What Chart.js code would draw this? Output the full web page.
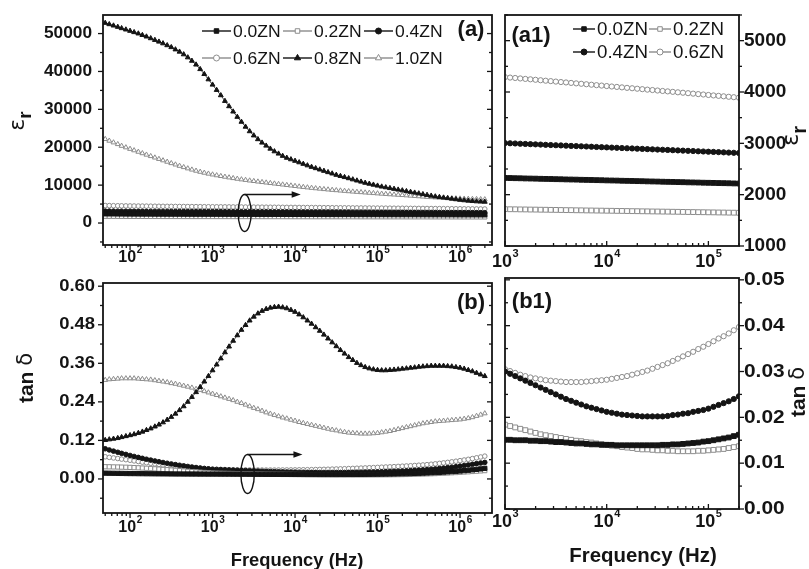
<!DOCTYPE html>
<html>
<head>
<meta charset="utf-8">
<script src="https://cdn.jsdelivr.net/npm/chart.js@4.4.1/dist/chart.umd.min.js"></script>
<style>
  html, body { margin: 0; padding: 0; background: #fff; }
  #wrap { position: relative; width: 809px; height: 569px; overflow: hidden; background: #fff; }
  #wrap canvas { position: absolute; }
</style>
</head>
<body>
<div id="wrap">
  <canvas id="cA"  width="497" height="270" style="left:0;top:0"></canvas>
  <canvas id="cA1" width="329" height="270" style="left:480px;top:0"></canvas>
  <canvas id="cB"  width="497" height="299" style="left:0;top:270px"></canvas>
  <canvas id="cB1" width="329" height="299" style="left:480px;top:270px"></canvas>
</div>
<script>
// Measurement frequencies (Hz), log sweep
const freqHz = [
  50, 56, 63, 71, 79, 89,
  100, 112, 126, 141, 158, 178, 200, 224, 251, 282, 316, 355, 398, 447, 501, 562, 631, 708, 794, 891,
  1000, 1122, 1259, 1413, 1585, 1778, 1995, 2239, 2512, 2818, 3162, 3548, 3981, 4467, 5012, 5623, 6310, 7079, 7943, 8913,
  10000, 11220, 12589, 14125, 15849, 17783, 19953, 22387, 25119, 28184, 31623, 35481, 39811, 44668, 50119, 56234, 63096, 70795, 79433, 89125,
  100000, 112202, 125893, 141254, 158489, 177828, 199526, 223872, 251189, 281838, 316228, 354813, 398107, 446684, 501187, 562341, 630957, 707946, 794328, 891251,
  1000000, 1122018, 1258925, 1412538, 1584893, 1778279, 1995262
];

const seriesNames = ['0.0ZN', '0.2ZN', '0.4ZN', '0.6ZN', '0.8ZN', '1.0ZN'];

// Relative permittivity
const epsZN00 = [
  2420, 2413, 2406, 2400, 2394, 2388,
  2383, 2378, 2373, 2369, 2365, 2361, 2358, 2355, 2352, 2349, 2346, 2344, 2341, 2339, 2337, 2335, 2333, 2331, 2329, 2328,
  2326, 2324, 2321, 2319, 2316, 2314, 2312, 2309, 2307, 2305, 2302, 2300, 2297, 2295, 2293, 2290, 2288, 2286, 2283, 2281,
  2278, 2276, 2274, 2271, 2269, 2267, 2264, 2262, 2259, 2257, 2255, 2252, 2250, 2248, 2245, 2243, 2240, 2238, 2236, 2233,
  2231, 2229, 2226, 2224, 2222, 2219, 2217, 2215, 2212, 2210, 2207, 2205, 2202, 2200, 2197, 2195, 2192, 2190, 2187, 2185,
  2182, 2180, 2177, 2175, 2172, 2170, 2168
];
const epsZN02 = [
  1790, 1785, 1780, 1775, 1770, 1766,
  1762, 1758, 1754, 1751, 1748, 1745, 1742, 1739, 1737, 1735, 1733, 1731, 1729, 1727, 1725, 1724, 1723, 1722, 1721, 1720,
  1718, 1716, 1715, 1713, 1712, 1710, 1709, 1707, 1706, 1704, 1703, 1701, 1699, 1698, 1696, 1695, 1693, 1692, 1690, 1689,
  1687, 1686, 1684, 1683, 1681, 1679, 1678, 1676, 1675, 1673, 1672, 1670, 1669, 1667, 1666, 1664, 1662, 1661, 1659, 1658,
  1656, 1655, 1653, 1652, 1650, 1649, 1647, 1645, 1644, 1642, 1641, 1639, 1637, 1636, 1634, 1633, 1631, 1629, 1628, 1626,
  1625, 1623, 1621, 1620, 1618, 1617, 1615
];
const epsZN04 = [
  3150, 3140, 3130, 3120, 3111, 3102,
  3093, 3085, 3077, 3070, 3063, 3057, 3051, 3046, 3041, 3036, 3032, 3028, 3024, 3021, 3018, 3015, 3013, 3011, 3009, 3007,
  3005, 3001, 2997, 2992, 2988, 2984, 2980, 2976, 2971, 2967, 2963, 2959, 2955, 2950, 2946, 2942, 2938, 2934, 2929, 2925,
  2921, 2917, 2913, 2908, 2904, 2900, 2896, 2892, 2887, 2883, 2879, 2875, 2871, 2866, 2862, 2858, 2854, 2850, 2845, 2841,
  2837, 2833, 2829, 2824, 2820, 2816, 2812, 2808, 2804, 2800, 2796, 2792, 2787, 2783, 2779, 2775, 2771, 2767, 2763, 2759,
  2755, 2751, 2746, 2742, 2738, 2734, 2730
];
const epsZN06 = [
  4620, 4600, 4580, 4560, 4540, 4522,
  4505, 4493, 4481, 4469, 4457, 4445, 4433, 4421, 4409, 4397, 4385, 4376, 4366, 4357, 4347, 4338, 4328, 4319, 4309, 4300,
  4290, 4281, 4273, 4264, 4255, 4247, 4238, 4229, 4220, 4212, 4203, 4194, 4186, 4177, 4168, 4160, 4151, 4142, 4133, 4125,
  4116, 4107, 4099, 4090, 4081, 4073, 4064, 4055, 4046, 4038, 4029, 4020, 4012, 4003, 3994, 3986, 3977, 3968, 3959, 3951,
  3942, 3933, 3925, 3916, 3907, 3899, 3890, 3881, 3871, 3862, 3852, 3843, 3833, 3824, 3814, 3805, 3795, 3786, 3776, 3767,
  3757, 3748, 3738, 3729, 3719, 3710, 3700
];
const epsZN08 = [
  52800, 52450, 52100, 51750, 51400, 51050,
  50700, 50350, 50000, 49600, 49200, 48750, 48300, 47850, 47400, 46900, 46400, 45800, 45200, 44500, 43700, 42800, 41800, 40600, 39300, 37900,
  36500, 35100, 33700, 32200, 30800, 29400, 28000, 26700, 25400, 24200, 23100, 22100, 21200, 20400, 19600, 18900, 18300, 17700, 17200, 16800,
  16400, 16000, 15600, 15200, 14800, 14450, 14100, 13750, 13400, 13050, 12700, 12400, 12100, 11800, 11500, 11200, 10900, 10600, 10350, 10100,
  9850, 9600, 9400, 9200, 9000, 8800, 8600, 8400, 8200, 8000, 7800, 7600, 7400, 7200, 7000, 6850, 6700, 6550, 6400, 6250,
  6100, 5980, 5880, 5780, 5700, 5640, 5600
];
const epsZN10 = [
  22150, 21700, 21250, 20800, 20350, 19950,
  19550, 19170, 18780, 18400, 18020, 17640, 17260, 16890, 16520, 16150, 15780, 15420, 15070, 14730, 14400, 14080, 13780, 13500, 13250, 13010,
  12790, 12580, 12380, 12190, 12010, 11830, 11660, 11500, 11350, 11200, 11060, 10920, 10790, 10660, 10530, 10400, 10270, 10140, 10010, 9880,
  9750, 9620, 9500, 9380, 9260, 9150, 9040, 8930, 8830, 8730, 8640, 8550, 8460, 8370, 8280, 8200, 8120, 8040, 7960, 7880,
  7800, 7720, 7650, 7570, 7500, 7430, 7360, 7280, 7200, 7120, 7040, 6960, 6880, 6810, 6740, 6680, 6620, 6570, 6520, 6480,
  6440, 6400, 6360, 6330, 6300, 6270, 6240
];

// Dielectric loss tangent
const tanZN00 = [
  0.0180, 0.0178, 0.0176, 0.0174, 0.0172, 0.0170,
  0.0168, 0.0167, 0.0165, 0.0164, 0.0162, 0.0161, 0.0160, 0.0159, 0.0158, 0.0157, 0.0156, 0.0155, 0.0155, 0.0154, 0.0154, 0.0153, 0.0153, 0.0152, 0.0152, 0.0151,
  0.0151, 0.0151, 0.0150, 0.0150, 0.0150, 0.0149, 0.0149, 0.0148, 0.0148, 0.0147, 0.0146, 0.0146, 0.0145, 0.0144, 0.0143, 0.0143, 0.0142, 0.0141, 0.0141, 0.0140,
  0.0140, 0.0140, 0.0139, 0.0139, 0.0139, 0.0139, 0.0139, 0.0139, 0.0139, 0.0139, 0.0139, 0.0140, 0.0140, 0.0141, 0.0141, 0.0142, 0.0143, 0.0144, 0.0145, 0.0147,
  0.0148, 0.0150, 0.0152, 0.0154, 0.0156, 0.0159, 0.0162, 0.0165, 0.0169, 0.0173, 0.0177, 0.0182, 0.0187, 0.0193, 0.0199, 0.0206, 0.0213, 0.0221, 0.0229, 0.0238,
  0.0248, 0.0259, 0.0271, 0.0284, 0.0298, 0.0313, 0.0330
];
const tanZN02 = [
  0.0380, 0.0378, 0.0375, 0.0372, 0.0368, 0.0364,
  0.0359, 0.0353, 0.0347, 0.0340, 0.0332, 0.0324, 0.0315, 0.0306, 0.0297, 0.0288, 0.0278, 0.0268, 0.0258, 0.0248, 0.0238, 0.0228, 0.0219, 0.0210, 0.0201, 0.0192,
  0.0184, 0.0181, 0.0178, 0.0175, 0.0172, 0.0169, 0.0166, 0.0163, 0.0161, 0.0159, 0.0157, 0.0155, 0.0153, 0.0151, 0.0149, 0.0148, 0.0146, 0.0145, 0.0143, 0.0142,
  0.0140, 0.0138, 0.0137, 0.0135, 0.0134, 0.0133, 0.0131, 0.0130, 0.0130, 0.0129, 0.0128, 0.0128, 0.0127, 0.0127, 0.0126, 0.0126, 0.0126, 0.0126, 0.0127, 0.0127,
  0.0128, 0.0129, 0.0130, 0.0131, 0.0133, 0.0135, 0.0137, 0.0140, 0.0143, 0.0146, 0.0150, 0.0154, 0.0158, 0.0163, 0.0168, 0.0174, 0.0180, 0.0186, 0.0193, 0.0200,
  0.0208, 0.0216, 0.0224, 0.0233, 0.0242, 0.0251, 0.0260
];
const tanZN04 = [
  0.0939, 0.0902, 0.0866, 0.0831, 0.0797, 0.0764,
  0.0732, 0.0701, 0.0671, 0.0642, 0.0614, 0.0587, 0.0561, 0.0536, 0.0512, 0.0489, 0.0467, 0.0446, 0.0426, 0.0407, 0.0389, 0.0372, 0.0356, 0.0341, 0.0327, 0.0314,
  0.0300, 0.0295, 0.0290, 0.0285, 0.0280, 0.0275, 0.0270, 0.0265, 0.0260, 0.0255, 0.0250, 0.0245, 0.0240, 0.0236, 0.0232, 0.0228, 0.0224, 0.0221, 0.0218, 0.0215,
  0.0212, 0.0210, 0.0208, 0.0206, 0.0205, 0.0204, 0.0203, 0.0202, 0.0202, 0.0202, 0.0202, 0.0202, 0.0203, 0.0205, 0.0206, 0.0208, 0.0209, 0.0212, 0.0214, 0.0216,
  0.0219, 0.0223, 0.0227, 0.0231, 0.0235, 0.0240, 0.0246, 0.0252, 0.0259, 0.0266, 0.0274, 0.0282, 0.0291, 0.0301, 0.0312, 0.0324, 0.0337, 0.0351, 0.0366, 0.0382,
  0.0399, 0.0417, 0.0436, 0.0456, 0.0476, 0.0496, 0.0515
];
const tanZN06 = [
  0.0690, 0.0672, 0.0654, 0.0636, 0.0618, 0.0600,
  0.0582, 0.0562, 0.0543, 0.0524, 0.0505, 0.0487, 0.0469, 0.0452, 0.0436, 0.0421, 0.0407, 0.0394, 0.0382, 0.0371, 0.0360, 0.0350, 0.0341, 0.0331, 0.0321, 0.0312,
  0.0305, 0.0301, 0.0297, 0.0293, 0.0290, 0.0287, 0.0285, 0.0283, 0.0281, 0.0280, 0.0279, 0.0278, 0.0277, 0.0277, 0.0277, 0.0277, 0.0278, 0.0279, 0.0280, 0.0281,
  0.0282, 0.0284, 0.0286, 0.0288, 0.0290, 0.0293, 0.0296, 0.0299, 0.0302, 0.0306, 0.0310, 0.0314, 0.0318, 0.0323, 0.0328, 0.0333, 0.0338, 0.0343, 0.0349, 0.0354,
  0.0360, 0.0366, 0.0372, 0.0377, 0.0383, 0.0390, 0.0397, 0.0404, 0.0411, 0.0419, 0.0427, 0.0436, 0.0446, 0.0458, 0.0471, 0.0485, 0.0500, 0.0516, 0.0533, 0.0551,
  0.0570, 0.0590, 0.0611, 0.0634, 0.0658, 0.0684, 0.0710
];
const tanZN08 = [
  0.121, 0.123, 0.125, 0.127, 0.130, 0.133,
  0.136, 0.139, 0.143, 0.147, 0.152, 0.157, 0.163, 0.169, 0.176, 0.184, 0.193, 0.203, 0.214, 0.226, 0.240, 0.255, 0.270, 0.286, 0.303, 0.320,
  0.338, 0.356, 0.375, 0.394, 0.412, 0.430, 0.447, 0.464, 0.479, 0.493, 0.505, 0.515, 0.523, 0.529, 0.533, 0.535, 0.536, 0.534, 0.531, 0.526,
  0.520, 0.512, 0.503, 0.493, 0.483, 0.472, 0.461, 0.449, 0.437, 0.425, 0.413, 0.401, 0.390, 0.379, 0.370, 0.361, 0.354, 0.348, 0.344, 0.341,
  0.339, 0.338, 0.338, 0.339, 0.340, 0.341, 0.343, 0.344, 0.346, 0.347, 0.349, 0.350, 0.351, 0.352, 0.352, 0.352, 0.352, 0.351, 0.350, 0.348,
  0.346, 0.343, 0.339, 0.335, 0.330, 0.325, 0.320
];
const tanZN10 = [
  0.308, 0.310, 0.311, 0.312, 0.313, 0.313,
  0.313, 0.313, 0.312, 0.311, 0.310, 0.309, 0.307, 0.305, 0.303, 0.301, 0.298, 0.296, 0.293, 0.290, 0.287, 0.284, 0.280, 0.277, 0.273, 0.269,
  0.265, 0.261, 0.257, 0.253, 0.249, 0.245, 0.240, 0.236, 0.231, 0.226, 0.221, 0.217, 0.212, 0.207, 0.203, 0.199, 0.195, 0.191, 0.188, 0.184,
  0.181, 0.177, 0.174, 0.171, 0.168, 0.165, 0.162, 0.159, 0.156, 0.153, 0.151, 0.148, 0.146, 0.144, 0.143, 0.142, 0.141, 0.141, 0.141, 0.142,
  0.143, 0.145, 0.147, 0.149, 0.152, 0.155, 0.158, 0.161, 0.164, 0.167, 0.170, 0.173, 0.175, 0.177, 0.179, 0.180, 0.181, 0.182, 0.183, 0.184,
  0.185, 0.187, 0.189, 0.192, 0.196, 0.200, 0.204
];

// Axis tick values
const epsTicksMain  = [0, 10000, 20000, 30000, 40000, 50000];
const epsTicksInset = [1000, 2000, 3000, 4000, 5000];
const tanTicksMain  = [0, 0.12, 0.24, 0.36, 0.48, 0.60];
const tanTicksInset = [0, 0.01, 0.02, 0.03, 0.04, 0.05];
const decadesMain   = [1e2, 1e3, 1e4, 1e5, 1e6];
const decadesInset  = [1e3, 1e4, 1e5];

const epsSets = [epsZN00, epsZN02, epsZN04, epsZN06, epsZN08, epsZN10];
const tanSets = [tanZN00, tanZN02, tanZN04, tanZN06, tanZN08, tanZN10];

const FONT = '"Liberation Sans", Arial, Helvetica, sans-serif';
const GREY = '#8c8c8c';
const INK = '#141414';

const markers = [
  { shape: 'rect',     fill: INK,    stroke: INK  },
  { shape: 'rect',     fill: '#fff', stroke: GREY },
  { shape: 'circle',   fill: INK,    stroke: INK  },
  { shape: 'circle',   fill: '#fff', stroke: GREY },
  { shape: 'triangle', fill: INK,    stroke: INK  },
  { shape: 'triangle', fill: '#fff', stroke: GREY }
];

function text(ctx, s, x, y, font, align, sx) {
  ctx.save();
  ctx.font = font;
  ctx.textAlign = align;
  ctx.textBaseline = 'middle';
  ctx.translate(x, y);
  ctx.scale(sx || 1, 1);
  ctx.fillText(s, 0, 0);
  ctx.restore();
}

function powerLabel(ctx, exp, x, y, size, sx) {
  const base = 'bold ' + size + 'px ' + FONT;
  const sup = 'bold ' + Math.round(size * 0.62) + 'px ' + FONT;
  ctx.save();
  ctx.translate(x, y);
  ctx.scale(sx || 1, 1);
  ctx.textBaseline = 'middle';
  ctx.textAlign = 'left';
  ctx.font = base;
  const w1 = ctx.measureText('10').width;
  ctx.font = sup;
  const w2 = ctx.measureText(String(exp)).width;
  const left = -(w1 + w2) / 2;
  ctx.font = base;
  ctx.fillText('10', left, 0);
  ctx.font = sup;
  ctx.fillText(String(exp), left + w1 + 0.5, -size * 0.47);
  ctx.restore();
}

function line(ctx, x1, y1, x2, y2) {
  ctx.beginPath();
  ctx.moveTo(x1, y1);
  ctx.lineTo(x2, y2);
  ctx.stroke();
}

function drawMarker(ctx, m, x, y, r) {
  ctx.save();
  ctx.fillStyle = m.fill;
  ctx.strokeStyle = m.stroke;
  ctx.lineWidth = 1;
  Chart.helpers.drawPoint(ctx, { pointStyle: m.shape, radius: r[m.shape], rotation: 0, borderWidth: 1 }, x, y);
  ctx.restore();
}

// Frame, ticks, tick labels, titles, legend and the arrow note of one panel
function makeDecor(cfg) {
  return {
    id: 'decor' + cfg.key,
    afterDatasetsDraw(chart) {
      const ctx = chart.ctx;
      const a = chart.chartArea;
      const xs = chart.scales.x, ys = chart.scales.y;
      ctx.save();
      ctx.strokeStyle = INK;
      ctx.fillStyle = INK;
      ctx.lineWidth = 1.3;

      // y ticks: outward on the labelled side, inward on the opposite border
      const ySideX = cfg.ySide === 'left' ? a.left : a.right;
      const yOppX = cfg.ySide === 'left' ? a.right : a.left;
      const dir = cfg.ySide === 'left' ? -1 : 1;
      const yTick = (v, len) => {
        const p = ys.getPixelForValue(v);
        if (p < a.top - 0.5 || p > a.bottom + 0.5) return;
        line(ctx, ySideX, p, ySideX + dir * len, p);
        line(ctx, yOppX, p, yOppX + dir * len, p);
      };
      const first = cfg.yTicks[0], step = cfg.yTicks[1] - cfg.yTicks[0];
      for (let k = -4; k < 40; k++) {
        const v = first + k * step / 2;
        if (v < ys.min - 1e-9 || v > ys.max + 1e-9) continue;
        yTick(v, k % 2 === 0 ? 5 : 3);
      }
      // x ticks on the bottom border, decades and their 2..9 subdivisions
      const xTick = (v, len) => {
        const p = xs.getPixelForValue(v);
        if (p < a.left - 0.5 || p > a.right + 0.5) return;
        line(ctx, p, a.bottom, p, a.bottom + cfg.xDir * len);
      };
      for (let d = 1; d <= 6; d++) {
        for (let m = 1; m <= 9; m++) xTick(m * Math.pow(10, d), m === 1 ? 5 : 3);
      }

      // frame
      ctx.lineWidth = 1.8;
      ctx.strokeRect(a.left, a.top, a.right - a.left, a.bottom - a.top);

      // y tick labels
      const yf = 'bold ' + cfg.yFont + 'px ' + FONT;
      cfg.yTicks.forEach(v => {
        text(ctx, cfg.yFmt(v), cfg.yLabelX, ys.getPixelForValue(v), yf, cfg.ySide === 'left' ? 'right' : 'left', cfg.ySx);
      });
      // x tick labels
      cfg.xTicks.forEach(v => {
        powerLabel(ctx, Math.round(Math.log10(v)), xs.getPixelForValue(v), cfg.xLabelY, cfg.xFont, cfg.xSx);
      });

      // axis titles
      if (cfg.xTitle) {
        text(ctx, 'Frequency (Hz)', cfg.xTitle.x, cfg.xTitle.y, 'bold ' + cfg.xTitle.size + 'px ' + FONT, 'center', cfg.xTitle.sx);
      }
      const t = cfg.yTitle;
      ctx.save();
      ctx.translate(t.x, t.y);
      ctx.rotate(-Math.PI / 2);
      ctx.textBaseline = 'middle';
      ctx.textAlign = 'left';
      if (t.kind === 'eps') {
        const f1 = t.size + 'px "DejaVu Sans", ' + FONT;
        const f2 = 'bold ' + Math.round(t.size * 0.85) + 'px ' + FONT;
        ctx.font = f1; const w1 = ctx.measureText('ε').width;
        ctx.font = f2; const w2 = ctx.measureText('r').width;
        const x0 = -(w1 + w2) / 2;
        ctx.font = f1; ctx.fillText('ε', x0, -t.size * 0.12);
        ctx.font = f2; ctx.fillText('r', x0 + w1, t.size * 0.22);
      } else {
        const f1 = 'bold ' + t.size + 'px ' + FONT;
        const f2 = t.size + 'px "DejaVu Sans", ' + FONT;
        ctx.font = f1; const w1 = ctx.measureText('tan ').width;
        ctx.font = f2; const w2 = ctx.measureText('δ').width;
        const x0 = -(w1 + w2) / 2;
        ctx.font = f1; ctx.fillText('tan ', x0, 0);
        ctx.font = f2; ctx.fillText('δ', x0 + w1, 0);
      }
      ctx.restore();

      // panel tag
      text(ctx, cfg.tag.text, cfg.tag.x, cfg.tag.y, 'bold ' + cfg.tag.size + 'px ' + FONT, 'center', 1);

      // legend
      if (cfg.legend) {
        const L = cfg.legend;
        const lf = L.size + 'px ' + FONT;
        L.rows.forEach((row, ri) => {
          row.forEach((si, ci) => {
            const m = markers[si];
            const x0 = L.colX[ci], y0 = L.rowY[ri];
            ctx.save();
            ctx.strokeStyle = m.fill === INK ? INK : GREY;
            ctx.lineWidth = 1.4;
            line(ctx, x0, y0, x0 + L.len, y0);
            ctx.restore();
            drawMarker(ctx, m, x0 + L.len / 2, y0, L.r);
            ctx.fillStyle = INK;
            text(ctx, seriesNames[si], x0 + L.len + 2, y0 + 1, lf, 'left', L.sx);
          });
        });
      }

      // ellipse around the low-loss curves with an arrow to the inset
      if (cfg.note) {
        const n = cfg.note;
        const cx = xs.getPixelForValue(n.fx), cy = ys.getPixelForValue(n.fy);
        ctx.lineWidth = 1.4;
        ctx.strokeStyle = INK;
        ctx.beginPath();
        ctx.ellipse(cx, cy, n.rx, n.ry, 0, 0, Math.PI * 2);
        ctx.stroke();
        const ex = xs.getPixelForValue(n.toFx);
        const ay = cy - n.ry;
        line(ctx, cx, ay, ex - 7, ay);
        ctx.beginPath();
        ctx.moveTo(ex, ay);
        ctx.lineTo(ex - 9, ay - 3.2);
        ctx.lineTo(ex - 9, ay + 3.2);
        ctx.closePath();
        ctx.fill();
      }
      ctx.restore();
    }
  };
}

function buildPanel(id, seriesIdx, sets, xMin, xMax, yMin, yMax, pad, radius, decor) {
  const datasets = seriesIdx.map(i => ({
    label: seriesNames[i],
    data: freqHz.map((f, k) => ({ x: f, y: sets[i][k] })),
    borderColor: markers[i].fill === INK ? INK : GREY,
    borderWidth: 0.8,
    pointStyle: markers[i].shape,
    pointRadius: radius[markers[i].shape],
    pointBackgroundColor: markers[i].fill,
    pointBorderColor: markers[i].stroke,
    pointBorderWidth: 1,
    tension: 0
  }));
  return new Chart(document.getElementById(id), {
    type: 'line',
    data: { datasets },
    options: {
      responsive: false,
      animation: false,
      devicePixelRatio: 1,
      layout: { padding: pad },
      plugins: { legend: { display: false }, tooltip: { enabled: false } },
      scales: {
        x: { type: 'logarithmic', min: xMin, max: xMax, display: false },
        y: { type: 'linear', min: yMin, max: yMax, display: false }
      }
    },
    plugins: [makeDecor(decor)]
  });
}

const mainR  = { rect: 3.0, circle: 2.3, triangle: 2.8 };
const insetR = { rect: 3.4, circle: 2.6, triangle: 3.0 };
const fmtInt = v => String(v);
const fmt2 = v => v.toFixed(2);

// (a) permittivity, all compositions
buildPanel('cA', [0, 1, 2, 3, 4, 5], epsSets, 47, 2.44e6, -5800, 54900,
  { left: 103, top: 15, right: 5, bottom: 25 }, mainR, {
    key: 'A', ySide: 'left', yTicks: epsTicksMain, yFmt: fmtInt, yLabelX: 92, yFont: 16, ySx: 1.08,
    xTicks: decadesMain, xDir: 1, xLabelY: 258, xFont: 16, xSx: 1,
    yTitle: { kind: 'eps', x: 21, y: 121, size: 22 },
    tag: { text: '(a)', x: 471, y: 30, size: 22 },
    legend: { rows: [[0, 1, 2], [3, 4, 5]], colX: [202, 283, 364], rowY: [31, 58], len: 29, size: 17, sx: 1.03, r: { rect: 3.2, circle: 3, triangle: 3.6 } },
    note: { fx: 2450, fy: 2640, rx: 6.5, ry: 18.5, toFx: 11700 }
  });

// (a1) permittivity, low-loss compositions
buildPanel('cA1', [0, 1, 2, 3], epsSets, 1000, 2.0e5, 1000, 5500,
  { left: 25, top: 15, right: 70, bottom: 24 }, insetR, {
    key: 'A1', ySide: 'right', yTicks: epsTicksInset, yFmt: fmtInt, yLabelX: 264, yFont: 19, ySx: 1.0,
    xTicks: decadesInset, xDir: -1, xLabelY: 262, xFont: 18, xSx: 1,
    yTitle: { kind: 'eps', x: 315, y: 136, size: 23 },
    tag: { text: '(a1)', x: 51, y: 36, size: 22 },
    legend: { rows: [[0, 1], [2, 3]], colX: [93, 169], rowY: [29, 52], len: 22, size: 18, sx: 1.04, r: { rect: 3.2, circle: 3, triangle: 3.6 } }
  });

// (b) loss tangent, all compositions
buildPanel('cB', [0, 1, 2, 3, 4, 5], tanSets, 47, 2.44e6, -0.106, 0.61,
  { left: 103, top: 13, right: 5, bottom: 56 }, mainR, {
    key: 'B', ySide: 'left', yTicks: tanTicksMain, yFmt: fmt2, yLabelX: 95, yFont: 16, ySx: 1.15,
    xTicks: decadesMain, xDir: 1, xLabelY: 258, xFont: 16, xSx: 1,
    xTitle: { x: 297, y: 291, size: 18, sx: 1.02 },
    yTitle: { kind: 'tan', x: 27, y: 108, size: 21 },
    tag: { text: '(b)', x: 471, y: 33, size: 22 },
    note: { fx: 2660, fy: 0.0155, rx: 6.7, ry: 19.5, toFx: 12300 }
  });

// (b1) loss tangent, low-loss compositions
buildPanel('cB1', [0, 1, 2, 3], tanSets, 1000, 2.0e5, 0, 0.0504,
  { left: 25, top: 8, right: 70, bottom: 60 }, insetR, {
    key: 'B1', ySide: 'right', yTicks: tanTicksInset, yFmt: fmt2, yLabelX: 264, yFont: 19, ySx: 1.1,
    xTicks: decadesInset, xDir: -1, xLabelY: 252, xFont: 18, xSx: 1,
    xTitle: { x: 163, y: 286, size: 20, sx: 1.02 },
    yTitle: { kind: 'tan', x: 319, y: 122, size: 21 },
    tag: { text: '(b1)', x: 52, y: 32, size: 22 }
  });
</script>
</body>
</html>
